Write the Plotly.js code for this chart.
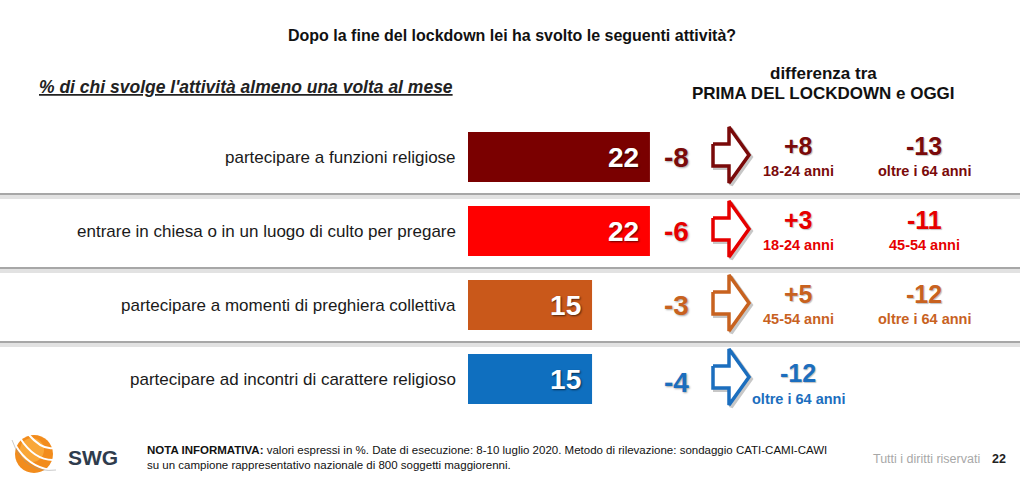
<!DOCTYPE html>
<html>
<head>
<meta charset="utf-8">
<script src="https://cdn.plot.ly/plotly-3.0.1.min.js"></script>
<style>
  html, body { margin: 0; padding: 0; background: #ffffff; }
  #chart { width: 1020px; height: 481px; }
</style>
</head>
<body>
<div id="chart"></div>
<script>
// ---------------- DATA ----------------
const categories = [
  "partecipare a funzioni religiose",
  "entrare in chiesa o in un luogo di culto per pregare",
  "partecipare a momenti di preghiera collettiva",
  "partecipare ad incontri di carattere religioso"
];
const shareValues = [22, 22, 15, 15];          // % almeno una volta al mese
const diffValues = [-8, -6, -3, -4];            // differenza prima del lockdown / oggi
const groupAValues = [8, 3, 5, -12];
const groupALabels = ["18-24 anni", "18-24 anni", "45-54 anni", "oltre i 64 anni"];
const groupBValues = [-13, -11, -12, null];
const groupBLabels = ["oltre i 64 anni", "45-54 anni", "oltre i 64 anni", null];

const titleText = "Dopo la fine del lockdown lei ha svolto le seguenti attività?";
const subtitleText = "% di chi svolge l'attività almeno una volta al mese";
const diffHeader1 = "differenza tra";
const diffHeader2 = "PRIMA DEL LOCKDOWN e OGGI";
const noteText = "<b>NOTA INFORMATIVA:</b> valori espressi in %. Date di esecuzione: 8-10 luglio 2020. Metodo di rilevazione: sondaggio CATI-CAMI-CAWI<br>su un campione rappresentativo nazionale di 800 soggetti maggiorenni.";
const rightsText = "Tutti i diritti riservati";
const pageNumber = "22";
const brandText = "SWG";

// ---------------- STYLE ----------------
const barColors  = ["#7a0000", "#ff0000", "#c9581a", "#0f6fbf"];
const textColors = ["#7a0a0a", "#e60000", "#c8621f", "#1b6ebe"];
const FONT = "Arial, 'Liberation Sans', sans-serif";

// geometry of the plot area (pixels)
const W = 1020, H = 481;
const mT = 120, mB = 65;
const plotH = H - mT - mB;
const x0px = 468, pxPerUnit = 8.27;
const xRange = [-x0px / pxPerUnit, (W - x0px) / pxPerUnit];
const pxToX = px => (px - x0px) / pxPerUnit;
const rowPx = plotH / categories.length;         // px per row
const dyUnits = px => px / rowPx;
const xp = px => px / W;
const yp = py => (H - mB - py) / plotH;

const fmt = v => (v > 0 ? "+" : "") + v;

const traces = [];

// bars
traces.push({
  type: "bar",
  orientation: "h",
  y: categories.map((c, i) => i),
  x: shareValues,
  width: 50 / rowPx,
  marker: { color: barColors, line: { width: 0 } },
  text: shareValues.map(v => String(v)),
  texttemplate: "%{text}\u00a0",
  textposition: "inside",
  insidetextanchor: "end",
  textfont: { family: FONT, size: 28, color: "#ffffff", weight: "bold",
              shadow: "1px 1px 2px rgba(0,0,0,0.6)" },
  hoverinfo: "skip",
  cliponaxis: false
});

// arrows (outline, white fill) built per row
const arrowShaftX = pxToX(713), arrowBaseX = pxToX(729), arrowTipX = pxToX(749);
const shaftHalf = dyUnits(11), headHalf = dyUnits(28);
categories.forEach((c, i) => {
  const cy = i - dyUnits(2);
  const xs = [arrowShaftX, arrowBaseX, arrowBaseX, arrowTipX, arrowBaseX, arrowBaseX, arrowShaftX, arrowShaftX];
  const ys = [cy - shaftHalf, cy - shaftHalf, cy - headHalf, cy, cy + headHalf, cy + shaftHalf, cy + shaftHalf, cy - shaftHalf];
  const sx = 2 / pxPerUnit, sy = dyUnits(2);
  traces.push({
    type: "scatter", mode: "lines",
    x: xs.map(v => v + sx), y: ys.map(v => v + sy),
    line: { color: "rgba(0,0,0,0.22)", width: 4 },
    hoverinfo: "skip"
  });
  traces.push({
    type: "scatter", mode: "lines",
    x: xs, y: ys, fill: "toself", fillcolor: "#ffffff",
    line: { color: textColors[i], width: 3.5 },
    hoverinfo: "skip"
  });
});

// ---------------- ANNOTATIONS ----------------
const ann = [];
const colDiffX = pxToX(676), colAX = pxToX(798), colBX = pxToX(924);

categories.forEach((c, i) => {
  ann.push({ x: -1.2, y: i, xref: "x", yref: "y", xanchor: "right", yanchor: "middle",
    text: c, showarrow: false, font: { family: FONT, size: 17, color: "#1a1a1a" } });
  ann.push({ x: colDiffX, y: i, xref: "x", yref: "y", xanchor: "center", yanchor: "middle",
    text: fmt(diffValues[i]), showarrow: false, yshift: i === 3 ? -3 : 0,
    font: { family: FONT, size: 28, weight: "bold", color: textColors[i],
            shadow: "1px 1px 2px rgba(0,0,0,0.35)" } });
  const single = groupBValues[i] === null;
  const bigShift = single ? 6 : 11, subShift = single ? -20 : -14;
  [[groupAValues, groupALabels, colAX], [groupBValues, groupBLabels, colBX]].forEach(([vals, labs, cx]) => {
    if (vals[i] === null) return;
    ann.push({ x: cx, y: i, xref: "x", yref: "y", xanchor: "center", yanchor: "middle",
      text: fmt(vals[i]), showarrow: false, yshift: bigShift,
      font: { family: FONT, size: 25, weight: "bold", color: textColors[i],
              shadow: "1px 1px 1px rgba(0,0,0,0.25)" } });
    ann.push({ x: cx, y: i, xref: "x", yref: "y", xanchor: "center", yanchor: "middle",
      text: labs[i], showarrow: false, yshift: subShift,
      font: { family: FONT, size: 14.5, weight: "bold", color: textColors[i] } });
  });
});

// header
ann.push({ x: xp(512), y: yp(35), xref: "paper", yref: "paper", xanchor: "center", yanchor: "middle",
  text: "<b>" + titleText + "</b>", showarrow: false, font: { family: FONT, size: 16, color: "#111" } });
ann.push({ x: xp(37), y: yp(87), xref: "paper", yref: "paper", xanchor: "left", yanchor: "middle",
  text: "<b><i>" + subtitleText + "</i></b>", showarrow: false,
  font: { family: FONT, size: 17.5, color: "#222", lineposition: "under" } });
ann.push({ x: xp(823), y: yp(73), xref: "paper", yref: "paper", xanchor: "center", yanchor: "middle",
  text: "<b>" + diffHeader1 + "</b>", showarrow: false, font: { family: FONT, size: 17, color: "#111" } });
ann.push({ x: xp(823), y: yp(94), xref: "paper", yref: "paper", xanchor: "center", yanchor: "middle",
  text: "<b>" + diffHeader2 + "</b>", showarrow: false, font: { family: FONT, size: 17, color: "#111" } });

// footer
ann.push({ x: xp(145), y: yp(457), xref: "paper", yref: "paper", xanchor: "left", yanchor: "middle",
  align: "left", text: noteText, showarrow: false, font: { family: FONT, size: 11.5, color: "#111" } });
ann.push({ x: xp(982), y: yp(459), xref: "paper", yref: "paper", xanchor: "right", yanchor: "middle",
  text: rightsText, showarrow: false, font: { family: FONT, size: 12.5, color: "#a8a8a8" } });
ann.push({ x: xp(1008), y: yp(459), xref: "paper", yref: "paper", xanchor: "right", yanchor: "middle",
  text: "<b>" + pageNumber + "</b>", showarrow: false, font: { family: FONT, size: 12.5, color: "#222" } });
ann.push({ x: xp(93), y: yp(457), xref: "paper", yref: "paper", xanchor: "center", yanchor: "middle",
  text: "<b>" + brandText + "</b>", showarrow: false, font: { family: FONT, size: 21, color: "#2f3c4d" } });

// ---------------- SHAPES ----------------
const shapes = [];
for (let i = 0; i < categories.length - 1; i++) {
  const ys = i + 0.5;
  shapes.push({ type: "line", xref: "paper", yref: "y", x0: 0, x1: 1, y0: ys + dyUnits(3), y1: ys + dyUnits(3),
    line: { color: "#e2e2e2", width: 4 }, layer: "below" });
  shapes.push({ type: "line", xref: "paper", yref: "y", x0: 0, x1: 1, y0: ys, y1: ys,
    line: { color: "#8a8a8a", width: 1.5 }, layer: "below" });
}
// logo globe
const P = (px, py) => xp(px) + "," + yp(py);
shapes.push({ type: "circle", xref: "paper", yref: "paper",
  x0: xp(15), x1: xp(53), y0: yp(473), y1: yp(435),
  fillcolor: "#f28c1c", line: { width: 0 } });
shapes.push({ type: "circle", xref: "paper", yref: "paper",
  x0: xp(20), x1: xp(44), y0: yp(462), y1: yp(438),
  fillcolor: "rgba(255,190,80,0.55)", line: { width: 0 } });
[
  "M" + P(16, 446) + " Q" + P(28, 466) + " " + P(50, 470),
  "M" + P(20, 438) + " Q" + P(34, 460) + " " + P(53, 460),
  "M" + P(28, 434) + " Q" + P(42, 450) + " " + P(53, 448)
].forEach(p => shapes.push({ type: "path", xref: "paper", yref: "paper", path: p,
  line: { color: "#ffffff", width: 2 } }));
shapes.push({ type: "path", xref: "paper", yref: "paper",
  path: "M" + P(12, 440) + " Q" + P(24, 474) + " " + P(56, 470),
  line: { color: "rgba(150,150,150,0.5)", width: 1 } });

// ---------------- LAYOUT ----------------
const layout = {
  width: W, height: H,
  margin: { l: 0, r: 0, t: mT, b: mB, pad: 0 },
  paper_bgcolor: "#ffffff",
  plot_bgcolor: "rgba(0,0,0,0)",
  showlegend: false,
  xaxis: { range: xRange, visible: false, fixedrange: true },
  yaxis: { range: [categories.length - 0.5, -0.5], visible: false, fixedrange: true },
  annotations: ann,
  shapes: shapes,
  font: { family: FONT }
};

Plotly.newPlot("chart", traces, layout, { displayModeBar: false, staticPlot: true });
</script>
</body>
</html>
